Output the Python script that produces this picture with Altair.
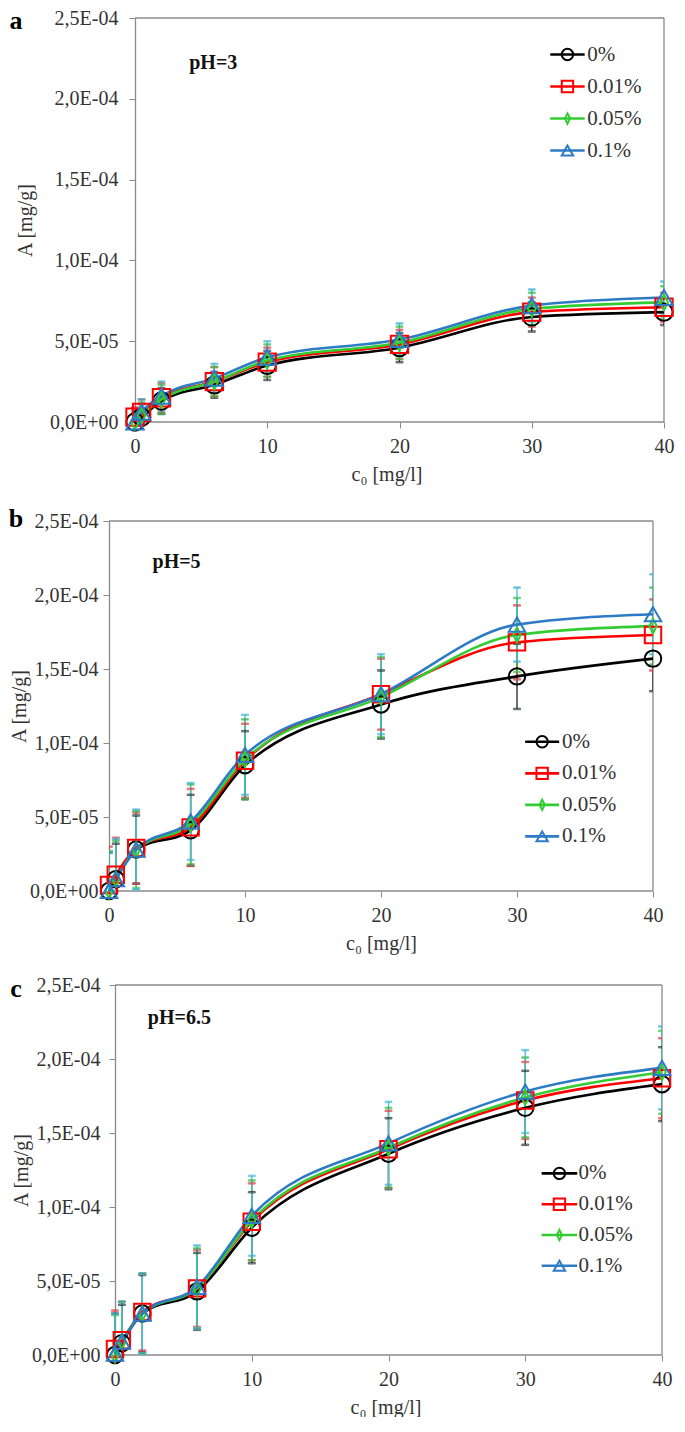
import json
import altair as alt
import pandas as pd

# ---------------- data ----------------
c0 = [0, 0.5, 2, 6, 10, 20, 30, 40]
series = ["0%", "0.01%", "0.05%", "0.1%"]
line_colors = ["#000000", "#ff0000", "#33cc33", "#2c7bc4"]
err_colors = ["#222222", "#ff3030", "#33cc33", "#3cc3e0"]
shapes = ["circle", "square", "M0,-0.9L0.45,0L0,0.9L-0.45,0Z", "triangle-up"]
y_ticks = [0, 5e-5, 1e-4, 1.5e-4, 2e-4, 2.5e-4]
y_tick_labels = ["0,0E+00", "5,0E-05", "1,0E-04", "1,5E-04", "2,0E-04", "2,5E-04"]
x_ticks = [0, 10, 20, 30, 40]

# pH = 3  (A [mg/g])
ph3_0 = [0.0, 0.3e-5, 1.3e-5, 2.3e-5, 3.5e-5, 4.6e-5, 6.5e-5, 6.8e-5]
ph3_001 = [0.3e-5, 0.6e-5, 1.5e-5, 2.5e-5, 3.7e-5, 4.8e-5, 6.8e-5, 7.1e-5]
ph3_005 = [0.0, 0.4e-5, 1.4e-5, 2.5e-5, 3.8e-5, 4.9e-5, 7.0e-5, 7.4e-5]
ph3_01 = [0.0, 0.6e-5, 1.6e-5, 2.7e-5, 4.0e-5, 5.1e-5, 7.2e-5, 7.7e-5]
ph3_err_0 = [0.5e-5, 0.8e-5, 0.8e-5, 0.8e-5, 0.9e-5, 0.9e-5, 0.9e-5, 0.8e-5]
ph3_err_001 = [0.6e-5, 0.8e-5, 0.9e-5, 0.9e-5, 0.9e-5, 0.9e-5, 0.9e-5, 0.9e-5]
ph3_err_005 = [0.6e-5, 0.8e-5, 0.9e-5, 0.9e-5, 1.0e-5, 1.0e-5, 1.0e-5, 1.0e-5]
ph3_err_01 = [0.7e-5, 0.8e-5, 0.9e-5, 0.9e-5, 1.0e-5, 1.0e-5, 1.0e-5, 1.0e-5]

# pH = 5
ph5_0 = [0.0, 0.8e-5, 2.8e-5, 4.1e-5, 8.5e-5, 12.6e-5, 14.5e-5, 15.7e-5]
ph5_001 = [0.4e-5, 1.1e-5, 2.9e-5, 4.3e-5, 8.8e-5, 13.3e-5, 16.8e-5, 17.3e-5]
ph5_005 = [0.0, 0.8e-5, 2.8e-5, 4.5e-5, 8.9e-5, 13.1e-5, 17.3e-5, 17.9e-5]
ph5_01 = [0.0, 0.8e-5, 2.8e-5, 4.7e-5, 9.2e-5, 13.3e-5, 18.0e-5, 18.7e-5]
ph5_err_0 = [2.6e-5, 2.4e-5, 2.3e-5, 2.4e-5, 2.3e-5, 2.3e-5, 2.2e-5, 2.2e-5]
ph5_err_001 = [2.6e-5, 2.5e-5, 2.4e-5, 2.6e-5, 2.5e-5, 2.4e-5, 2.5e-5, 2.4e-5]
ph5_err_005 = [2.7e-5, 2.6e-5, 2.6e-5, 2.7e-5, 2.7e-5, 2.7e-5, 2.5e-5, 2.6e-5]
ph5_err_01 = [2.6e-5, 2.7e-5, 2.7e-5, 2.6e-5, 2.7e-5, 2.7e-5, 2.5e-5, 2.7e-5]

# pH = 6.5
ph65_0 = [0.0, 0.8e-5, 2.8e-5, 4.3e-5, 8.6e-5, 13.6e-5, 16.7e-5, 18.3e-5]
ph65_001 = [0.4e-5, 1.0e-5, 2.9e-5, 4.5e-5, 9.0e-5, 13.9e-5, 17.2e-5, 18.7e-5]
ph65_005 = [0.0, 0.9e-5, 2.8e-5, 4.5e-5, 9.1e-5, 14.0e-5, 17.4e-5, 19.1e-5]
ph65_01 = [0.1e-5, 0.9e-5, 2.8e-5, 4.6e-5, 9.4e-5, 14.3e-5, 17.8e-5, 19.4e-5]
ph65_err_0 = [2.8e-5, 2.6e-5, 2.6e-5, 2.6e-5, 2.4e-5, 2.4e-5, 2.5e-5, 2.5e-5]
ph65_err_001 = [2.6e-5, 2.6e-5, 2.6e-5, 2.6e-5, 2.6e-5, 2.6e-5, 2.6e-5, 2.7e-5]
ph65_err_005 = [2.7e-5, 2.7e-5, 2.7e-5, 2.7e-5, 2.7e-5, 2.7e-5, 2.7e-5, 2.8e-5]
ph65_err_01 = [2.7e-5, 2.7e-5, 2.7e-5, 2.8e-5, 2.7e-5, 2.8e-5, 2.8e-5, 2.8e-5]

panels = {
    "a": ([ph3_0, ph3_001, ph3_005, ph3_01], [ph3_err_0, ph3_err_001, ph3_err_005, ph3_err_01]),
    "b": ([ph5_0, ph5_001, ph5_005, ph5_01], [ph5_err_0, ph5_err_001, ph5_err_005, ph5_err_01]),
    "c": ([ph65_0, ph65_001, ph65_005, ph65_01], [ph65_err_0, ph65_err_001, ph65_err_005, ph65_err_01]),
}

FONT = "Liberation Serif"
FRAME = "#8a8a8a"
label_expr = json.dumps(y_tick_labels) + "[round(datum.value / 5e-5)]"
GROUP_LEFT = 109  # common left edge (page px) of all three panel groups


def make_df(key):
    vals, errs = panels[key]
    rows = []
    for s, v, e in zip(series, vals, errs):
        for x, y, er in zip(c0, v, e):
            rows.append({"series": s, "c0": x, "A": y, "lo": y - er, "hi": y + er})
    return pd.DataFrame(rows)


def panel(key, ph_text, ph_pos, leg, plot_left, plot_right, h, letter_pos,
          ytitle_pad, ylabel_pad, msize):
    df = make_df(key)
    shift = plot_left - GROUP_LEFT
    w = plot_right - GROUP_LEFT
    ppu = (plot_right - plot_left) / 40.0
    xmin = -shift / ppu
    xs = alt.Scale(domain=[xmin, 40], nice=False, zero=False)
    ys = alt.Scale(domain=[0, 2.5e-4], nice=False, zero=False)
    xaxis = alt.Axis(values=x_ticks, title="c₀ [mg/l]", format="d", labelPadding=8,
                     titlePadding=8, labelFlush=False, domain=False)
    yaxis = alt.Axis(values=y_ticks, title="A [mg/g]", labelExpr=label_expr, offset=-shift,
                     labelPadding=ylabel_pad, titlePadding=ytitle_pad, labelFlush=False)

    def X(f):
        return alt.X(f, type="quantitative", scale=xs, axis=xaxis)

    def Y(f):
        return alt.Y(f, type="quantitative", scale=ys, axis=yaxis)

    color = alt.Color("series:N", scale=alt.Scale(domain=series, range=line_colors), legend=None)
    stroke = alt.Stroke("series:N", scale=alt.Scale(domain=series, range=err_colors), legend=None)
    shape = alt.Shape("series:N", scale=alt.Scale(domain=series, range=shapes), legend=None)

    # plot frame (top, right, bottom)
    fdf = pd.DataFrame({"fx": [0, 40, 0], "fx2": [40, 40, 40],
                        "fy": [2.5e-4, 0, 0], "fy2": [2.5e-4, 2.5e-4, 0]})
    frame = alt.Chart(fdf).mark_rule(color=FRAME, strokeWidth=1.3).encode(
        x=X("fx"), x2="fx2", y=Y("fy"), y2="fy2")

    base = alt.Chart(df)
    err = base.mark_rule(strokeWidth=1.3, clip=True).encode(x=X("c0"), y=Y("lo"), y2="hi", stroke=stroke)
    cap_lo = base.mark_tick(orient="horizontal", size=7, thickness=1.5, clip=True).encode(
        x=X("c0"), y=Y("lo"), stroke=stroke)
    cap_hi = base.mark_tick(orient="horizontal", size=7, thickness=1.5, clip=True).encode(
        x=X("c0"), y=Y("hi"), stroke=stroke)
    lines = base.mark_line(interpolate="monotone", strokeWidth=2.6).encode(
        x=X("c0"), y=Y("A"), color=color)
    pts = base.mark_point(filled=False, strokeWidth=2, size=msize, opacity=1).encode(
        x=X("c0"), y=Y("A"), color=color, shape=shape)

    # legend drawn inside the plot
    lx0, lx1, ltx, ly0, ldy = leg
    ldf = pd.DataFrame({
        "series": series,
        "lx0": [lx0] * 4,
        "lx1": [lx1] * 4,
        "lxm": [(lx0 + lx1) / 2] * 4,
        "ltx": [ltx] * 4,
        "ly": [ly0 - i * ldy for i in range(4)],
    })
    lbase = alt.Chart(ldf)
    lrule = lbase.mark_rule(strokeWidth=2.6).encode(x=X("lx0"), x2="lx1", y=Y("ly"), color=color)
    lpts = lbase.mark_point(filled=False, strokeWidth=2, size=130, opacity=1).encode(
        x=X("lxm"), y=Y("ly"), color=color, shape=shape)
    ltext = lbase.mark_text(font=FONT, fontSize=21, align="left", baseline="middle",
                            color="#333333").encode(x=X("ltx"), y=Y("ly"), text="series:N")

    tdf = pd.DataFrame({"tx": [ph_pos[0]], "ty": [ph_pos[1]], "t": [ph_text]})
    phlab = alt.Chart(tdf).mark_text(font=FONT, fontSize=20, fontWeight="bold", align="left",
                                     baseline="middle", color="#111111").encode(
        x=X("tx"), y=Y("ty"), text="t:N")

    letter = alt.Chart(pd.DataFrame({"l": [key]})).mark_text(
        font=FONT, fontSize=26, fontWeight="bold", align="center", baseline="middle",
        color="#000000").encode(x=alt.value(letter_pos[0]), y=alt.value(letter_pos[1]), text="l:N")

    layers = [frame, err, cap_lo, cap_hi, lines, pts, lrule, lpts, ltext, phlab, letter]
    return alt.layer(*layers).properties(width=w, height=h)


pa = panel("a", "pH=3", (4.1, 2.22e-4), (31.4, 34.0, 34.2, 2.274e-4, 0.198e-4),
           135, 664, 404, (-93, 3), 14, 11, 300)
pb = panel("b", "pH=5", (3.2, 2.22e-4), (30.6, 33.1, 33.3, 1.008e-4, 0.213e-4),
           109, 653, 370, (-93, -2), 0, 5, 270)
pc = panel("c", "pH=6.5", (2.4, 2.28e-4), (31.2, 33.8, 33.9, 1.227e-4, 0.208e-4),
           115, 662, 370, (-93, 4), 0, 9, 270)

chart = alt.concat(pa, pb, pc, columns=1, spacing=22).properties(
    padding={"left": 0, "top": 0, "right": 0, "bottom": 0}
).configure_view(strokeWidth=0).configure_axis(
    labelFont=FONT, titleFont=FONT, labelFontSize=20, titleFontSize=20,
    titleFontWeight="normal", labelColor="#333333", titleColor="#333333",
    domainColor=FRAME, tickColor=FRAME, tickSize=6, domainWidth=1.3, grid=False
)

chart.save("out.html", embed_options={"renderer": "svg", "actions": False})
